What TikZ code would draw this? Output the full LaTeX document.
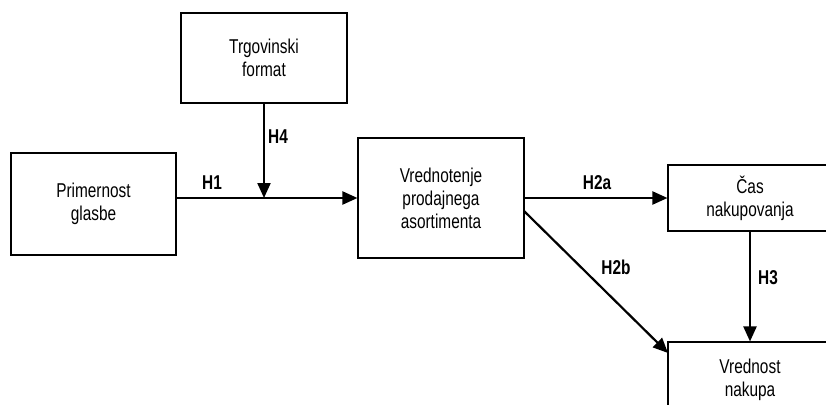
\documentclass[tikz,border=0pt]{standalone}
\usepackage{fontspec}
\setmainfont{Liberation Sans}[FakeStretch=0.77]
\usetikzlibrary{arrows.meta}
\tikzset{
  box/.style={draw, line width=1.1pt, inner sep=0pt, font=\fontsize{20}{23}\selectfont},
  link/.style={line width=2.2pt, -{Triangle[length=15pt,width=13pt]}},
  hyp/.style={font=\fontsize{20}{23}\selectfont\bfseries, inner sep=0pt}
}
\begin{document}
\begin{tikzpicture}[x=1pt, y=-1pt, every text node part/.style={align=center}]
            \useasboundingbox (0,0) rectangle (826,404);
            \node[box, minimum width=166pt, minimum height=90pt] (trg) at(264,58) {Trgovinski\\format};
            \node[box, minimum width=165pt, minimum height=102pt] (prim) at(93.5,204) {Primernost\\glasbe};
            \node[box, minimum width=166pt, minimum height=120pt] (vred) at(441,198) {Vrednotenje\\prodajnega\\asortimenta};
            \node[box, minimum width=164pt, minimum height=66pt] (cas) at(750,198) {Čas\\nakupovanja};
            \node[box, minimum width=164pt, minimum height=76pt] (vnak) at(750,380) {Vrednost\\nakupa};

            \coordinate (h4end) at (trg.south |- vred.west);
            \coordinate (h2bstart) at (524,211);
            \coordinate (h2bend) at (668,353);

            \draw[link] (prim.east |- vred.west) -- (vred.west);
            \draw[link] (trg.south) -- (h4end);
            \draw[link] (vred.east) -- (cas.west);
            \draw[link] (h2bstart) -- (h2bend);
            \draw[link] (cas.south) -- (vnak.north);

            \node[hyp] (h1) at(212,183) {H1};
            \node[hyp] (h4) at(278,137) {H4};
            \node[hyp] (h2a) at(597,183) {H2a};
            \node[hyp] (h2b) at(616,267) {H2b};
            \node[hyp] (h3) at(768,278) {H3};

        \end{tikzpicture}
\end{document}
